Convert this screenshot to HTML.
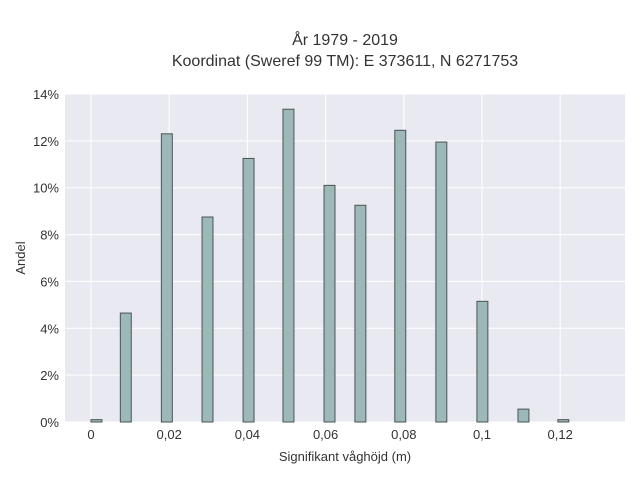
<!DOCTYPE html>
<html><head><meta charset="utf-8"><style>
body{margin:0;background:#fff;font-family:"Liberation Sans",sans-serif;}
svg text{font-family:"Liberation Sans",sans-serif;fill:#333;}
</style></head><body>
<svg id="chart" width="640" height="480">
<text x="345" y="45" text-anchor="middle" font-size="16">År 1979 - 2019</text>
<text x="345" y="66" text-anchor="middle" font-size="16">Koordinat (Sweref 99 TM): E 373611, N 6271753</text>
<rect x="65" y="94" width="560" height="328" fill="#e9e9f1"/>
<g id="grid"></g><g id="bars"></g><g id="ticks"></g>
<text x="345" y="461" text-anchor="middle" font-size="13">Signifikant våghöjd (m)</text>
<text transform="translate(25,258) rotate(-90)" text-anchor="middle" font-size="13">Andel</text>
</svg>
<script>
const binStarts=[0,0.0075,0.018,0.0284,0.0389,0.0491,0.0596,0.0675,0.0777,0.0882,0.0987,0.1092,0.1194];
const binWidth=0.0028;
const shares=[0.1,4.65,12.3,8.75,11.25,13.35,10.1,9.25,12.45,11.95,5.15,0.55,0.1];
const xTicks=[0,0.02,0.04,0.06,0.08,0.1,0.12];
const xTickLabels=["0","0,02","0,04","0,06","0,08","0,1","0,12"];
const yTicks=[0,2,4,6,8,10,12,14];
const yTickLabels=["0%","2%","4%","6%","8%","10%","12%","14%"];
const NS="http://www.w3.org/2000/svg";
const xs=v=>91+v*3910;
const ys=v=>422-v*(328/14);
function mk(t,a,p){const e=document.createElementNS(NS,t);for(const k in a)e.setAttribute(k,a[k]);p.appendChild(e);return e;}
const grid=document.getElementById('grid'),bars=document.getElementById('bars'),ticks=document.getElementById('ticks');
xTicks.forEach((v,i)=>{
 const l=mk('line',{x1:xs(v),x2:xs(v),y1:94,y2:422,stroke:'#fff','stroke-width':1},grid);
 
 
 const t=mk('text',{x:xs(v),y:439,'text-anchor':'middle','font-size':13},ticks);
 t.textContent=xTickLabels[i];
 
 
});
yTicks.forEach((v,i)=>{
 const l=mk('line',{x1:65,x2:625,y1:ys(v),y2:ys(v),stroke:'#fff','stroke-width':1},grid);
 
 
 const t=mk('text',{x:59,y:ys(v)+5,'text-anchor':'end','font-size':13},ticks);
 t.textContent=yTickLabels[i];
 
 
});
binStarts.forEach((s,i)=>{
 const x0=xs(s),x1=xs(s+binWidth),y=ys(shares[i]);
 const r=mk('rect',{x:x0,y:y,width:x1-x0,height:422-y,fill:'#9cb8b8',stroke:'#4a5454','stroke-width':1},bars);
 
 
});
</script>
</body></html>
